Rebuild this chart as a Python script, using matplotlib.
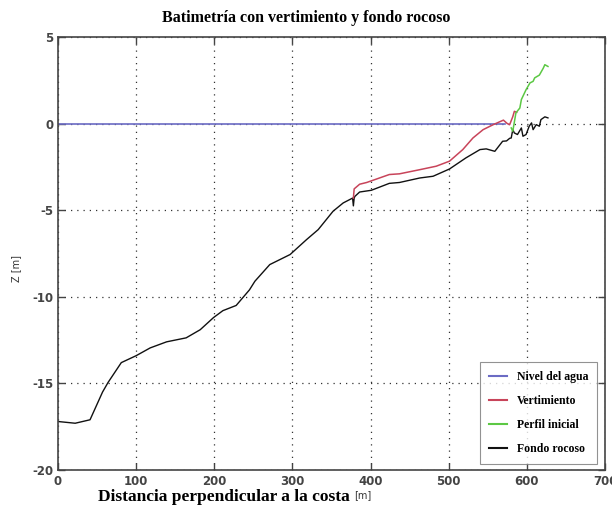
import matplotlib
matplotlib.use("Agg")
import matplotlib.pyplot as plt
from matplotlib.lines import Line2D

plt.rcParams["axes.unicode_minus"] = False

# Data
water_x = [0, 572]
water_z = [0, 0]

fondo_x = [0, 22, 41, 57, 64, 81, 100, 118, 139, 164, 182, 199, 211, 228, 245, 252,
           271, 297, 318, 333, 352, 365, 377, 378, 379, 380, 386, 401, 424, 437, 463,
           480, 501, 522, 540, 548, 559, 569, 574, 578, 580, 582, 584, 588, 593, 595,
           599, 603, 606, 608, 612, 616, 618, 623, 627]
fondo_z = [-17.2, -17.3, -17.1, -15.5, -14.95, -13.8, -13.4, -12.95, -12.6, -12.37, -11.9,
           -11.2, -10.8, -10.5, -9.6, -9.1, -8.14, -7.56, -6.7, -6.12, -5.06, -4.58, -4.3,
           -4.75, -4.3, -4.2, -3.95, -3.85, -3.45, -3.4, -3.14, -3.04, -2.62, -1.98, -1.5,
           -1.46, -1.6, -1.02, -1.0, -0.85, -0.83, -0.35, -0.54, -0.63, -0.25, -0.73,
           -0.63, -0.15, 0.04, -0.35, -0.06, -0.15, 0.23, 0.39, 0.33]

vert_x = [378, 379, 386, 395, 424, 437, 463, 484, 501, 518, 531, 544, 557, 565, 570,
          575, 578, 582, 584, 587]
vert_z = [-4.3, -3.77, -3.5, -3.4, -2.94, -2.9, -2.66, -2.46, -2.17, -1.5, -0.83, -0.35,
          -0.06, 0.1, 0.2, 0.0, -0.06, 0.4, 0.71, 0.65]

perfil_x = [580, 582, 586, 591, 593, 597, 599, 604, 608, 610, 616, 621, 623, 627]
perfil_z = [-0.25, -0.44, 0.62, 0.9, 1.39, 1.77, 1.96, 2.35, 2.44, 2.64, 2.8, 3.2, 3.4, 3.3]

labels = ["Nivel del agua", "Vertimiento", "Perfil inicial", "Fondo rocoso"]
colors = ["#6b6bc4", "#c8445a", "#5cc844", "#111111"]

xticks = [0, 100, 200, 300, 400, 500, 600, 700]
yticks = [-20, -15, -10, -5, 0, 5]

fig = plt.figure(figsize=(6.12, 5.11), dpi=100)
ax = fig.add_axes([58/612, 41/511, 547/612, 433/511])

ax.plot(water_x, water_z, color=colors[0], lw=1.2)
ax.plot(fondo_x, fondo_z, color=colors[3], lw=1.0)
ax.plot(vert_x, vert_z, color=colors[1], lw=1.1)
ax.plot(perfil_x, perfil_z, color=colors[2], lw=1.1)

ax.set_xlim(0, 700)
ax.set_ylim(-20, 5)
ax.set_xticks(xticks)
ax.set_yticks(yticks)
ax.grid(True, color="#333333", linestyle=(0, (1, 4)), linewidth=0.9)
ax.tick_params(direction="in", top=True, right=True, length=5, width=1,
               colors="#444444", labelcolor="#444444", labelsize=8.5)
for lab in ax.get_xticklabels() + ax.get_yticklabels():
    lab.set_fontweight("bold")
    lab.set_family("DejaVu Sans")
for sp in ax.spines.values():
    sp.set_color("#444444")
    sp.set_linewidth(1.2)

fig.text(0.5, 1 - 18/511, "Batimetría con vertimiento y fondo rocoso",
         ha="center", va="center", family="Liberation Serif", fontweight="bold",
         fontsize=11.5)
fig.text(224/612, 1 - 497/511, "Distancia perpendicular a la costa",
         ha="center", va="center", family="Liberation Serif", fontweight="bold",
         fontsize=12.5)
fig.text(363/612, 1 - 495/511, "[m]", ha="center", va="center",
         family="DejaVu Sans", fontsize=7, color="#333333")
fig.text(16/612, 1 - 268/511, "Z [m]", ha="center", va="center", rotation=90,
         family="DejaVu Sans", fontsize=7, color="#333333")

handles = [Line2D([0], [0], color=c, lw=1.5) for c in colors]
leg = ax.legend(handles, labels, loc="lower right", bbox_to_anchor=(0.997, 0.0),
                prop={"family": "Liberation Serif", "weight": "bold", "size": 8.5},
                frameon=True, fancybox=False, edgecolor="#777777",
                handlelength=1.5, labelspacing=1.0, borderpad=0.8)
leg.get_frame().set_linewidth(0.8)

fig.savefig("out.png", dpi=100)
